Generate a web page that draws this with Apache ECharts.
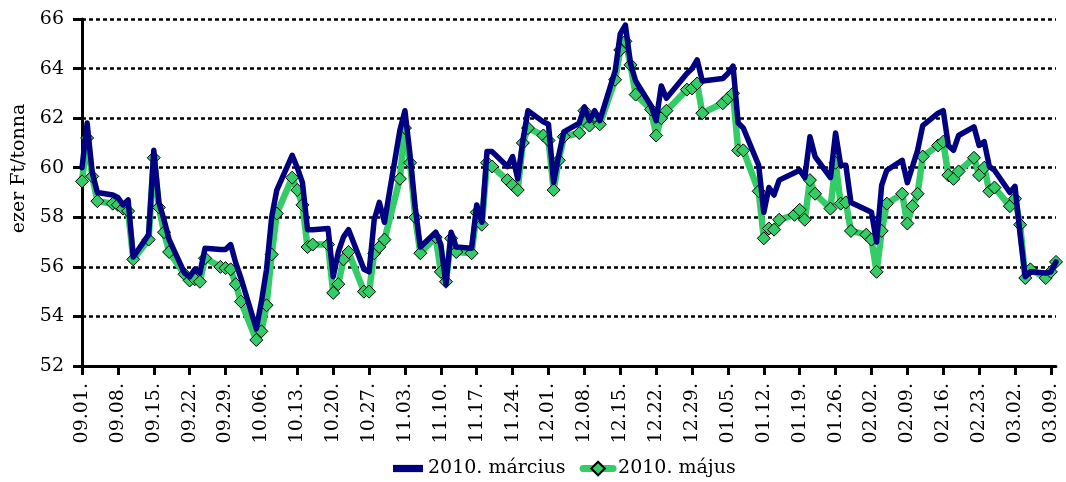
<!DOCTYPE html>
<html><head><meta charset="utf-8">
<script src="https://cdn.jsdelivr.net/npm/echarts@6/dist/echarts.min.js"></script>
<style>html,body{margin:0;padding:0;background:#fff}#c{width:1066px;height:482px}</style>
</head><body><div id="c"></div>
<script>
const dates = [
'2009-09-01','2009-09-02','2009-09-03','2009-09-04','2009-09-07','2009-09-08','2009-09-09','2009-09-10','2009-09-11',
'2009-09-14','2009-09-15','2009-09-16','2009-09-17','2009-09-18','2009-09-21','2009-09-22','2009-09-23','2009-09-24','2009-09-25',
'2009-09-28','2009-09-29','2009-09-30','2009-10-01','2009-10-02','2009-10-05','2009-10-06','2009-10-07','2009-10-08','2009-10-09',
'2009-10-12','2009-10-13','2009-10-14','2009-10-15','2009-10-16','2009-10-19','2009-10-20','2009-10-21','2009-10-22','2009-10-23',
'2009-10-26','2009-10-27','2009-10-28','2009-10-29','2009-10-30','2009-11-02','2009-11-03','2009-11-04','2009-11-05','2009-11-06',
'2009-11-09','2009-11-10','2009-11-11','2009-11-12','2009-11-13','2009-11-16','2009-11-17','2009-11-18','2009-11-19','2009-11-20',
'2009-11-23','2009-11-24','2009-11-25','2009-11-26','2009-11-27','2009-11-30','2009-12-01','2009-12-02','2009-12-03','2009-12-04',
'2009-12-07','2009-12-08','2009-12-09','2009-12-10','2009-12-11','2009-12-14','2009-12-15','2009-12-16','2009-12-17','2009-12-18',
'2009-12-21','2009-12-22','2009-12-23','2009-12-24','2009-12-28','2009-12-29','2009-12-30','2009-12-31',
'2010-01-04','2010-01-05','2010-01-06','2010-01-07','2010-01-08','2010-01-11','2010-01-12','2010-01-13','2010-01-14','2010-01-15',
'2010-01-18','2010-01-19','2010-01-20','2010-01-21','2010-01-22','2010-01-25','2010-01-26','2010-01-27','2010-01-28','2010-01-29',
'2010-02-01','2010-02-02','2010-02-03','2010-02-04','2010-02-05','2010-02-08','2010-02-09','2010-02-10','2010-02-11','2010-02-12',
'2010-02-15','2010-02-16','2010-02-17','2010-02-18','2010-02-19','2010-02-22','2010-02-23','2010-02-24','2010-02-25','2010-02-26',
'2010-03-01','2010-03-02','2010-03-03','2010-03-04','2010-03-05','2010-03-08','2010-03-09','2010-03-10'
];
const marcius = [
60.0,61.8,59.8,59.0,58.9,58.8,58.5,58.7,56.4,
57.3,60.7,58.6,57.9,57.1,55.75,55.6,55.9,55.75,56.75,
56.7,56.7,56.9,56.15,55.55,53.5,54.6,55.9,58.0,59.1,
60.5,60.0,59.4,57.5,57.5,57.55,55.6,56.6,57.2,57.5,
55.9,55.8,57.9,58.6,57.8,61.5,62.3,60.5,58.4,56.8,
57.4,56.9,55.3,57.4,56.8,56.75,58.5,57.8,60.65,60.65,
60.05,60.45,59.55,61.1,62.3,61.85,61.75,59.4,60.5,61.45,
61.8,62.45,61.9,62.3,61.9,63.9,65.4,65.75,64.2,63.5,
62.5,61.9,63.3,62.8,63.8,64.0,64.35,63.5,
63.6,63.8,64.1,61.8,61.6,60.1,58.2,59.2,58.9,59.5,
59.8,59.9,59.6,61.25,60.45,59.6,61.4,60.1,60.1,58.6,
58.3,58.2,57.0,59.3,59.9,60.3,59.4,60.05,60.7,61.7,
62.2,62.3,60.9,60.7,61.3,61.65,60.9,61.05,60.05,59.9,
59.0,59.25,57.3,55.6,55.8,55.75,55.8,56.2
];
const majus = [
59.45,61.2,59.65,58.65,58.55,58.5,58.35,58.25,56.3,
57.1,60.4,58.4,57.4,56.6,55.7,55.45,55.5,55.4,56.35,
56.0,55.95,55.9,55.3,54.6,53.05,53.4,54.45,56.5,58.15,
59.6,59.1,58.5,56.8,56.9,56.9,54.95,55.3,56.3,56.6,
55.0,55.0,56.55,56.8,57.1,59.55,61.6,60.2,58.0,56.55,
57.2,55.8,55.4,57.15,56.6,56.55,58.2,57.7,60.2,60.05,
59.5,59.3,59.1,61.0,61.6,61.3,61.1,59.1,60.3,61.25,
61.4,62.3,61.7,62.1,61.75,63.55,64.75,65.1,64.15,62.95,
62.35,61.3,62.0,62.3,63.15,63.2,63.4,62.2,
62.6,62.8,63.0,60.7,60.7,59.05,57.15,57.55,57.5,57.9,
58.1,58.3,57.9,59.5,58.95,58.35,60.2,58.55,58.6,57.45,
57.3,57.1,55.8,57.45,58.55,58.95,57.75,58.45,58.95,60.45,
60.9,61.05,59.7,59.55,59.85,60.4,59.7,60.0,59.05,59.2,
58.45,58.75,57.7,55.55,55.9,55.55,55.8,56.2
];
const tickLabels = ['09.01.','09.08.','09.15.','09.22.','09.29.','10.06.','10.13.','10.20.','10.27.','11.03.','11.10.','11.17.','11.24.',
'12.01.','12.08.','12.15.','12.22.','12.29.','01.05.','01.12.','01.19.','01.26.','02.02.','02.09.','02.16.','02.23.','03.02.','03.09.'];
const seriesNames = ['2010. március','2010. május'];

const DAY = 86400000;
const t0 = Date.UTC(2009, 8, 1);
function dayOf(s){ const p = s.split('-').map(Number); return (Date.UTC(p[0], p[1]-1, p[2]) - t0) / DAY; }
const xs = dates.map(dayOf);
const tickDays = tickLabels.map((_, i) => i * 7);
const FONT = 'DejaVu Serif';

const chart = echarts.init(document.getElementById('c'), null, {renderer: 'canvas'});
chart.setOption({
  animation: false,
  backgroundColor: '#fff',
  grid: {left: 82, top: 19, width: 974, height: 347, containLabel: false},
  legend: {
    data: [
      {name: seriesNames[0], icon: 'path://M0,0H29V7H0Z'},
      {name: seriesNames[1], lineStyle: {width: 7}}
    ],
    left: 388, top: 454,
    itemWidth: 30, itemHeight: 17, itemGap: 14,
    textStyle: {fontFamily: FONT, fontSize: 19, color: '#000'}
  },
  xAxis: {
    type: 'value', min: 0, max: 190, interval: 7,
    axisLine: {lineStyle: {color: '#000', width: 3}},
    axisTick: {show: true, customValues: tickDays, length: 9, lineStyle: {color: '#000', width: 3}},
    axisLabel: {customValues: tickDays, rotate: 90, margin: 17, color: '#000', fontFamily: FONT, fontSize: 19,
      formatter: v => tickLabels[Math.round(v / 7)] || ''},
    splitLine: {show: false}
  },
  yAxis: {
    type: 'value', min: 52, max: 66, interval: 2,
    name: 'ezer Ft/tonna', nameLocation: 'middle', nameRotate: 90, nameGap: 52,
    nameTextStyle: {fontFamily: FONT, fontSize: 19, color: '#000', padding: [0, 0, 0, 48]},
    axisLine: {show: true, lineStyle: {color: '#000', width: 3}},
    axisTick: {show: true, length: 9, lineStyle: {color: '#000', width: 3}},
    axisLabel: {margin: 18, color: '#000', fontFamily: FONT, fontSize: 19},
    splitLine: {show: true, lineStyle: {color: '#000', width: 2.5, type: [4, 3]}}
  },
  series: [
    {
      name: seriesNames[0], type: 'line', z: 3,
      data: xs.map((x, i) => [x, marcius[i]]),
      symbol: 'none', showSymbol: false,
      lineStyle: {color: '#000080', width: 5.5, join: 'round', cap: 'round'},
      itemStyle: {color: '#000080'}
    },
    {
      name: seriesNames[1], type: 'line', z: 2,
      data: xs.map((x, i) => [x, majus[i]]),
      symbol: 'diamond', symbolSize: 13,
      lineStyle: {color: '#33CC66', width: 6.5, join: 'round', cap: 'round'},
      itemStyle: {color: '#33CC66', borderColor: '#000', borderWidth: 1}
    }
  ]
});
</script></body></html>
